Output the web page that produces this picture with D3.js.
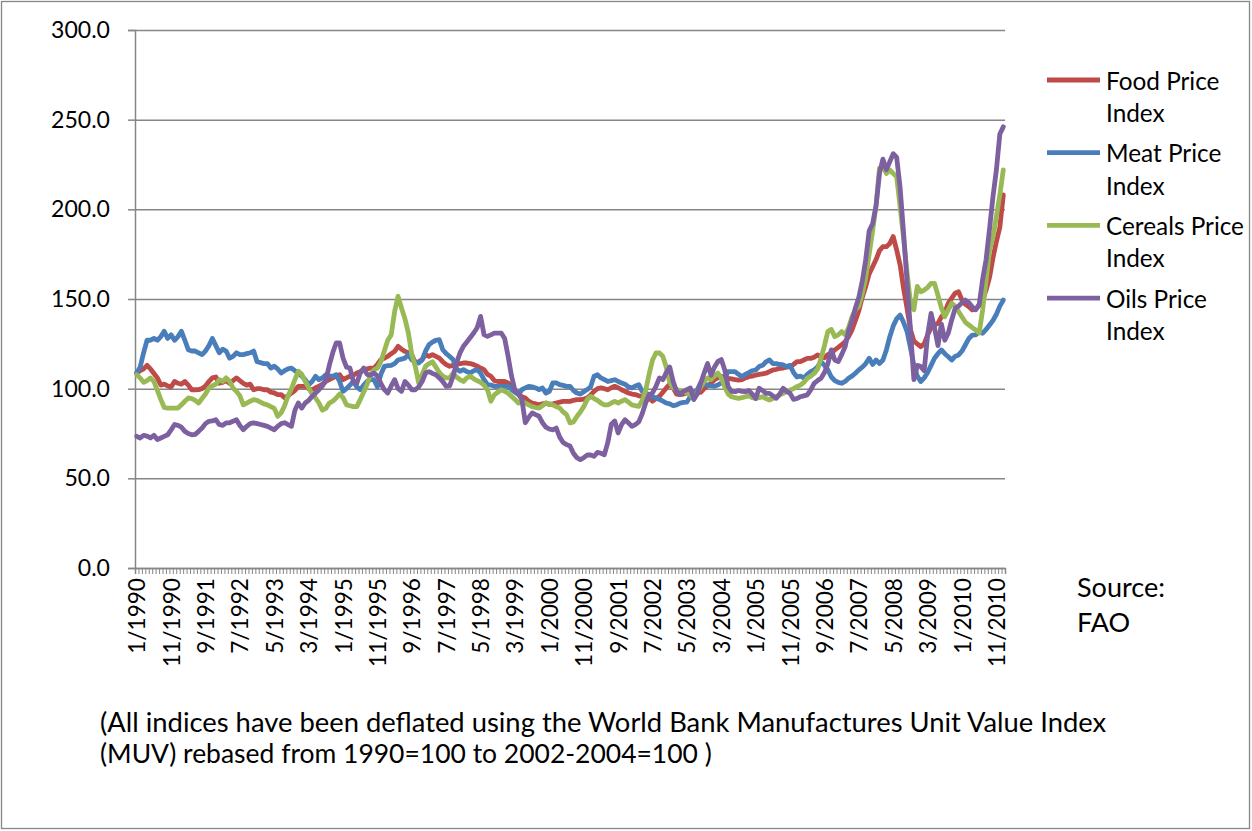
<!DOCTYPE html>
<html>
<head>
<meta charset="utf-8">
<script src="https://cdn.jsdelivr.net/npm/d3@7"></script>
<style>
  html, body { margin: 0; padding: 0; background: #fff; }
  svg { display: block; }
  text { font-family: Lato, "Open Sans", "Liberation Sans", sans-serif; fill: #000; }
</style>
</head>
<body>
<svg id="chart" width="1252" height="831"></svg>
<script>
// ---------------- DATA ----------------
const seriesNames = ["Food Price Index", "Meat Price Index", "Cereals Price Index", "Oils Price Index"];
const legendLines = [["Food Price", "Index"], ["Meat Price", "Index"], ["Cereals Price", "Index"], ["Oils Price", "Index"]];
const startYear = 1990;
const nMonths = 253; // 1/1990 .. 1/2011
const xTickLabels = ["1/1990","11/1990","9/1991","7/1992","5/1993","3/1994","1/1995","11/1995","9/1996","7/1997",
  "5/1998","3/1999","1/2000","11/2000","9/2001","7/2002","5/2003","3/2004","1/2005","11/2005",
  "9/2006","7/2007","5/2008","3/2009","1/2010","11/2010"];
const yTicks = [0, 50, 100, 150, 200, 250, 300];

const food = [
108.7,110,111,113,111,108.5,106,102,102.5,101.5,101,104,
103,102.5,104,102,99.4,99.4,99.5,100,101.5,104,106,106.5,
103,103.5,104.5,103,104.5,106,104.5,103,102,102.5,99.4,100,
100,99.4,99.4,98,97.6,96.7,96.7,95,96,97.6,99,101.3,
101.3,101.3,100,99.4,100.5,101.3,102.5,104,105,106,107,107.8,
105,106,106.9,107.5,108.7,109.5,110.6,111,111.5,111.5,113.5,116.2,
117,118,119.5,120.8,123.6,122,120.8,120,119,114.3,115,116.2,
119,118,119,118,117,115,113.4,112.5,113,113.4,114,114.3,
114.3,114,113.4,112.5,111.5,110.6,108,106.9,104.5,104,104,104,
103.2,101,99.4,97,95.5,94.8,93,92,91.5,91,91.5,92,
91.2,91.5,92,92.5,92.9,92.9,92.9,93.5,93.9,93.9,94.2,94.8,
96.5,98.5,100,100.4,100,99.4,100.5,101.3,100.5,99.4,98.5,97.6,
97,96.7,96,95.7,95,94.8,93,94.5,95.7,98,100.4,102.5,
100.5,97,96.7,97,97.6,97,96.7,97.5,98,100,101.5,103.2,
105,106,106.9,106.5,105.8,105.5,105,104.8,105,106,106.7,107,
107.6,108,108.3,108.6,109.5,110.4,110.8,111.3,111.5,112,112.3,113.5,
115.1,115.1,116,116.9,116.9,117.5,118.8,117.8,117.2,119,120,121.6,
123,124.5,126.2,129,132.7,138,143.5,151,157,164,168,172,
177,179.2,179.2,181,184.8,177.3,169,156,145,133,126.5,125,
123.4,125,130,134,135.5,136.4,140,142.5,147.6,150.5,153.2,154,
149.4,147,145.7,143.9,144.5,146.5,149.4,155,162,173,182,190,
208];

const meat = [
108.7,112,120,127,127,128,127,129,132,128,130,127,
129,132,127,121.7,121,121,120,119,121,124,128,124,
120,122,121,117,118,120,119,119,119.5,120,121,115,
114.5,114,114,111.5,112.5,111,108.7,110,111,111.5,110,108.7,
107,105,102.2,104,106.9,105,106,107.8,107,107,107.8,104,
98.5,100,102,104,101,99.4,102,104,105,105,101,108,
112.4,112.8,113,114,116,116.5,117,119,116,115,114.3,116,
121,124.5,126,127,127.3,121.7,119.5,118,116.2,111,109.7,110.6,
109.5,108.7,110,110.6,108.7,105,102.2,102,101.3,101.3,101.3,101.3,
101.3,99.5,98,96.7,99.4,100.4,101.3,101,100.4,99.4,100.4,97.5,
98.5,103.2,103.2,102.2,101.8,101.3,101.3,99,97.6,97,98.3,99.5,
101,107,107.8,106,105,104,104.5,105,104,103.2,102.5,101,
100.4,101.5,102.2,98.5,97.5,96.7,95.5,94.8,94,93,92,91.5,
90.5,91,92,92.3,92.5,95.7,97.5,99.4,103.2,102.5,102,101.5,
101.3,102,103.2,106,109.5,109.5,109.5,108,106.7,108,109,110,
110.4,112.3,113,115,116,114,114,113.5,113.2,112.3,113,109,
106.5,107,106,108,109.5,110.4,112.3,115,113,110.4,106.5,104.5,
103.5,103,104,105.8,107,108.6,110.5,112,114,117,113.5,116,
114,116,121.6,129,135,139,141,137,132,123,113,107,
104,106,109,113,117,119.5,121.6,119.5,117.8,116,118,118.8,
121,124.5,128,129.9,130,131.8,130.9,133,135.5,138,141.5,146,
149.4];

const cereals = [
107.8,106,103.5,104.5,106,104,99,94,89.5,89.2,89.2,89.2,
89.2,91,93,94.8,94.5,93.5,92,94.5,97,100.4,101.5,102.5,
105,104,106,104,100.4,98.5,96,91,92,93,93.9,93.5,
92.5,91.5,91,90,89,84.6,86.5,90.5,96,100,105,109.7,
108,104,100.4,97,94.8,92,88,89,92,93,94.8,97,
95,91,90.5,90,90,93.9,98,102.5,108,110.5,111.5,115,
121,127,130,143,151.5,145,139,131,119,112.5,103.2,108,
112.5,114,115,112,109,107,106,106,108.7,106.5,105,104,
106,106.9,105.5,104.5,103.5,102,99.4,93,96.5,98,99.4,98.5,
97.5,95.7,94,92,93,92,91,90,89.5,89.2,90.5,92,
91.5,91,90,89.2,87,85.5,80.9,81.5,84.5,87,90,94,
95.7,94.5,93.5,92,91,91,92,92.9,92,93,93.9,92.5,
91,90.5,90.1,93.5,99,108,116,119.9,120,118,112,103.5,
100.5,99.5,99,98.5,97.5,96.7,94,98,101,104,106,105,
107,108.7,106,101,97,95.5,95,94.6,95,95.5,96,95,
94.6,95,95.5,94.5,93.7,94.5,95.5,96.5,97.4,98.5,99.3,100,
101.1,102,103.5,105.8,107,108.5,111,117,124,132,133,129,
130,131.8,130,134,140,144,146,153,162,175,188,202,
223,224,220,221.9,220,218.2,201.5,184,165,148,144,157,
154,155,156.5,158.7,158.7,152,145,140.1,143.9,147.6,146,143,
140,137,135.5,134,132.7,131,144,160,177,184.5,196,208,
222];

const oils = [
73.4,72.5,74,73.5,72.5,74,71.6,72.5,73.4,74.3,77,80,
79.5,78.5,76.2,75,74.3,74.5,76.2,78,80.5,81.8,82,82.7,
80,79.5,80.9,81,81.8,82.7,79.5,77.1,79,80.5,80.9,80.5,
80,79.5,79,78,77.1,79,80.5,81,80,79,88,92,
89.2,92,93.5,95.7,97.5,99.4,101.5,104.5,113,120,125.5,125.5,
117,112,111.5,104,103,108.7,111.5,108,107.5,108.7,107,103,
99.5,97.6,101.5,105,100,98.5,104,102,99.4,99.4,101,104,
108.7,109.5,108.5,107.8,106,104,101.3,101.5,106.9,114.3,119.9,123.6,
126,128.5,131,134,140.3,130.1,129.2,130,131,131,131,128,
118,107,99,97,94,81,84,86.5,85.5,84.6,81,78.5,
77.5,77,78,73,70,68.8,68,64,61.5,60.4,61.5,63,
63,62.3,64.5,64,63.2,70,80,82,75.3,80,82.7,80.9,
79,80,81.5,86,92,96.5,97.6,101.3,106,105,109,112,
104,98.5,96.7,98.5,99.5,100.4,94,97,103,108.7,114,107.5,
112,115.2,116.2,110.4,101.1,98.5,98.3,99,98.5,98.3,99,97,
94.5,100.2,99,97.4,97.4,96,94.6,97,100.2,98.5,97.4,94,
94.5,95.5,96,96.5,99.3,103,104.5,105.8,109,114,121.6,116,
115.1,119,123.4,132,138,145,151,160,172,188,192,202,
220,228,222,226.6,231,229,212,187,160,133,105,113,
112.3,110,130,142,134,124,136,127,131,138.3,144.8,146,
148,149.4,148,145.5,144,147,161,172,189,207,222,242,
246];

const footnote = ["(All indices have been deflated using the World Bank Manufactures Unit Value Index",
                  "(MUV) rebased from 1990=100 to 2002-2004=100 )"];
const sourceLines = ["Source:", "FAO"];

// ---------------- LAYOUT ----------------
const colors = ["#BE4B48", "#4A7EBB", "#98B954", "#7D60A0"];
const W = 1252, H = 831;
const plot = { left: 135, right: 1005, top: 30, bottom: 568 };
const axisColor = "#868686";
const months = d3.range(nMonths).map(i => `${i % 12 + 1}/${startYear + Math.floor(i / 12)}`);
const series = [food, meat, cereals, oils].map((vals, k) => ({
  name: seriesNames[k], color: colors[k], values: vals.map((v, i) => ({ m: months[i], v }))
}));

const svg = d3.select("#chart");

// outer border
svg.append("rect").attr("x", 1.5).attr("y", 1.5).attr("width", W - 4).attr("height", H - 4)
  .attr("fill", "#fff").attr("stroke", axisColor).attr("stroke-width", 1.3);

const x = d3.scaleBand().domain(months).range([plot.left, plot.right]).paddingInner(0).paddingOuter(0);
const xEdge = d3.scaleLinear().domain([0, nMonths]).range([plot.left, plot.right]);
const y = d3.scaleLinear().domain([0, 300]).range([plot.bottom, plot.top]);

function fitSize(sample, target, base) {
  const t = svg.append("text").attr("font-size", base).text(sample);
  const w = t.node().getComputedTextLength();
  t.remove();
  return w > 0 ? base * target / w : base;
}

// gridlines
svg.append("g").attr("transform", `translate(${plot.left},0)`)
  .call(d3.axisLeft(y).tickValues(yTicks).tickSize(-(plot.right - plot.left)).tickFormat(""))
  .call(g => g.select(".domain").remove())
  .call(g => g.selectAll("line").attr("stroke", axisColor).attr("stroke-width", 1.5));

// y axis
const ySize = fitSize("300.0", 59, 20);
svg.append("g").attr("transform", `translate(${plot.left},0)`)
  .call(d3.axisLeft(y).tickValues(yTicks).tickFormat(d3.format(".1f")).tickSize(7).tickPadding(18))
  .call(g => g.select(".domain").attr("stroke", axisColor).attr("stroke-width", 1.5))
  .call(g => g.selectAll("line").attr("stroke", axisColor).attr("stroke-width", 1.5))
  .call(g => g.selectAll("text").attr("font-size", ySize).attr("font-family", null).attr("fill", "#000"));

// x axis ticks at category boundaries
svg.append("g").attr("transform", `translate(0,${plot.bottom})`)
  .call(d3.axisBottom(xEdge).tickValues(d3.range(nMonths + 1)).tickSize(6).tickFormat(""))
  .call(g => g.select(".domain").attr("stroke", axisColor).attr("stroke-width", 1.5))
  .call(g => g.selectAll("line").attr("stroke", axisColor).attr("stroke-width", 1));

// x labels (rotated)
const xSize = fitSize("11/1990", 89, 20);
svg.append("g").attr("transform", `translate(0,${plot.bottom})`)
  .call(d3.axisBottom(x).tickValues(xTickLabels).tickSize(0).tickPadding(0))
  .call(g => g.select(".domain").remove())
  .call(g => g.selectAll("text")
    .attr("font-size", xSize).attr("font-family", null).attr("fill", "#000")
    .attr("text-anchor", "end").attr("dy", null).attr("y", 0)
    .attr("dominant-baseline", "central")
    .attr("transform", "translate(0,10) rotate(-90)"));

// lines
const line = d3.line().x(d => x(d.m) + x.bandwidth() / 2).y(d => y(d.v));
svg.append("g").selectAll("path").data(series).join("path")
  .attr("d", d => line(d.values))
  .attr("fill", "none").attr("stroke", d => d.color).attr("stroke-width", 4.8)
  .attr("stroke-linejoin", "round").attr("stroke-linecap", "round");

// legend
const legSize = fitSize("Cereals Price", 138, 20);
const leg = svg.append("g");
series.forEach((s, k) => {
  const y0 = 80 + k * 72.7;
  leg.append("line").attr("x1", 1047).attr("x2", 1100).attr("y1", y0).attr("y2", y0)
    .attr("stroke", s.color).attr("stroke-width", 4.8);
  legendLines[k].forEach((t, j) => {
    leg.append("text").attr("x", 1106).attr("y", y0 + j * 32.5)
      .attr("dominant-baseline", "central").attr("font-size", legSize).text(t);
  });
});

// source
const srcSize = fitSize("Source:", 88, 20);
sourceLines.forEach((t, j) => {
  svg.append("text").attr("x", 1077).attr("y", 586 + j * 35)
    .attr("dominant-baseline", "central").attr("font-size", srcSize).text(t);
});

// footnote (each line fitted to its width in the reference)
const fnTargets = [1007, 612];
footnote.forEach((t, j) => {
  const s = fitSize(t, fnTargets[j], 20);
  svg.append("text").attr("x", 100).attr("y", 721 + j * 32)
    .attr("dominant-baseline", "central").attr("font-size", s).text(t);
});
</script>
</body>
</html>
